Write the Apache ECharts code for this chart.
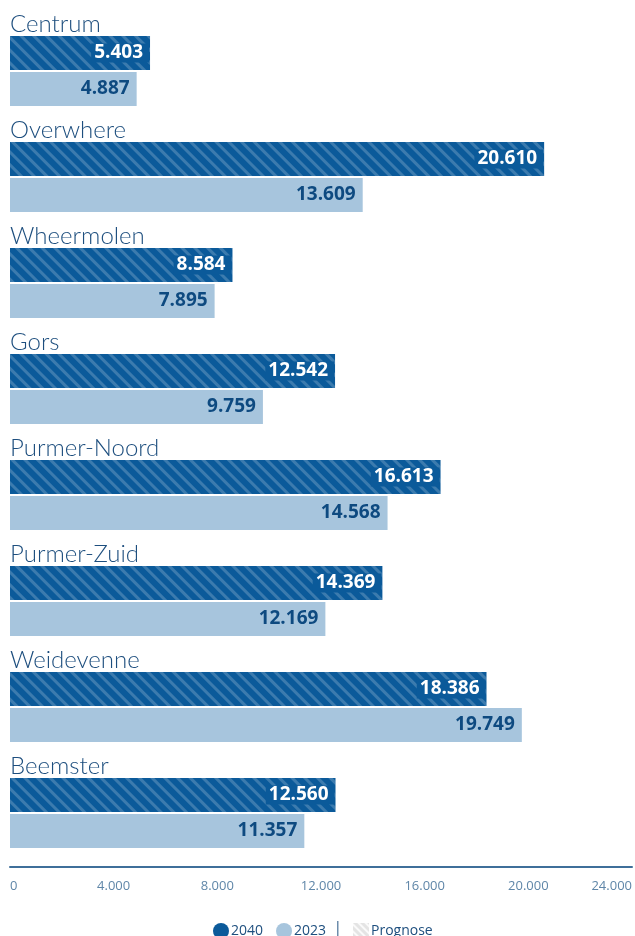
<!DOCTYPE html>
<html><head><meta charset="utf-8">
<script src="https://cdn.jsdelivr.net/npm/echarts@6/dist/echarts.min.js"></script>
<style>html,body{margin:0;padding:0;background:#fff}#c{width:635px;height:936px}</style>
</head><body><div id="c"></div>
<script>
const categories = ['Centrum','Overwhere','Wheermolen','Gors','Purmer-Noord','Purmer-Zuid','Weidevenne','Beemster'];
const values2040 = [5403,20610,8584,12542,16613,14369,18386,12560];
const values2023 = [4887,13609,7895,9759,14568,12169,19749,11357];
const xTicks = [0,4000,8000,12000,16000,20000,24000];

const DARK = '#0b5a9a', LIGHT = '#a7c5dd', TEXT = '#1d4e7e';
const fmt = v => String(v).replace(/\B(?=(\d{3})+(?!\d))/g, '.');
const stripe = {symbol:'rect', color:'rgba(255,255,255,0.2)', dashArrayX:[1,0], dashArrayY:[3,6], rotation:Math.PI/4};

const chart = echarts.init(document.getElementById('c'), null, {renderer:'canvas'});
chart.setOption({
  animation:false,
  textStyle:{fontFamily:'Open Sans'},
  grid:{left:10,right:3,top:19,bottom:69,containLabel:false},
  xAxis:{type:'value',min:xTicks[0],max:xTicks[xTicks.length-1],interval:4000,
    splitLine:{show:false},axisTick:{show:false},
    axisLine:{show:true,lineStyle:{color:'#3f6f9a',width:2}},
    axisLabel:{formatter:fmt,color:'#5f86a8',fontSize:13,margin:13,alignMinLabel:'left',alignMaxLabel:'right',fontFamily:'Open Sans'}},
  yAxis:{type:'category',data:categories,inverse:true,
    axisLine:{show:false},axisTick:{show:false},
    axisLabel:{inside:true,margin:0,interval:0,showMinLabel:true,showMaxLabel:true,hideOverlap:false,
      align:'left',verticalAlign:'middle',lineHeight:24,
      formatter:v=>v+'\n\n\n\n',
      color:TEXT,fontSize:24,fontFamily:'Lato',fontWeight:300}},
  legend:[
    {top:918,left:208,itemWidth:16,itemHeight:16,itemGap:13,
      textStyle:{color:TEXT,fontSize:14,fontFamily:'Open Sans',padding:[0,0,0,-3]},
      data:[{name:'2040',icon:'circle',itemStyle:{color:DARK,decal:'none'}},{name:'2023',icon:'circle'}]},
    {top:918,left:348,itemWidth:16,itemHeight:16,
      textStyle:{color:TEXT,fontSize:14,fontFamily:'Open Sans',padding:[0,0,0,-3]},
      data:[{name:'Prognose',icon:'rect'}]}
  ],
  graphic:[{type:'text',left:334,top:921,style:{text:'|',fill:TEXT,fontSize:14,fontFamily:'Open Sans'}}],
  series:[
    {name:'2040',type:'bar',data:values2040,barWidth:34,barGap:'6%',
      itemStyle:{color:DARK,decal:stripe},
      label:{show:true,position:'insideRight',distance:1,formatter:p=>fmt(p.value),color:'#fff',
        fontWeight:'bold',fontSize:19,fontFamily:'Open Sans',backgroundColor:DARK,padding:[0,6,0,3]}},
    {name:'2023',type:'bar',data:values2023,barWidth:34,
      itemStyle:{color:LIGHT},
      label:{show:true,position:'insideRight',distance:7,formatter:p=>fmt(p.value),color:'#0e4a80',
        fontWeight:'bold',fontSize:19,fontFamily:'Open Sans'}},
    {name:'Prognose',type:'bar',data:[],itemStyle:{color:'#e4e4e4',decal:{symbol:'rect',color:'rgba(255,255,255,0.8)',dashArrayX:[1,0],dashArrayY:[2,3],rotation:Math.PI/4}}}
  ]
});
</script></body></html>
